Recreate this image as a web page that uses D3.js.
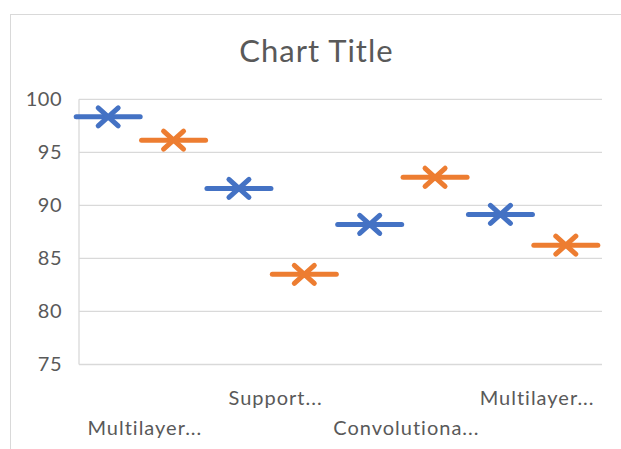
<!DOCTYPE html>
<html>
<head>
<meta charset="utf-8">
<script src="https://cdn.jsdelivr.net/npm/d3@7"></script>
<style>
  html, body { margin: 0; padding: 0; background: #fff; }
  #chart { width: 621px; height: 449px; overflow: hidden; }
  text { font-family: Lato, "Open Sans", sans-serif; fill: #595959; }
</style>
</head>
<body>
<div id="chart"></div>
<script>
// --- Data ---
const categories = ["Multilayer...", "Support...", "Convolutiona...", "Multilayer..."];
const seriesNames = ["Series1", "Series2"];
const series1 = [98.35, 91.6, 88.2, 89.15];
const series2 = [96.15, 83.5, 92.65, 86.25];
const yTicks = [75, 80, 85, 90, 95, 100];

(function(){
function drawChart() {
    const W = 621, H = 449;
    const plot = { left: 79, right: 602, top: 99.3, bottom: 364.5 };
    const colors = { Series1: "#4472C4", Series2: "#ED7D31" };

    const svg = d3.select("#chart").append("svg")
        .attr("width", W)
        .attr("height", H);

    // chart area border (runs off the right/bottom of the crop)
    svg.append("rect")
        .attr("x", 10.5).attr("y", 14.5)
        .attr("width", 700).attr("height", 600)
        .attr("fill", "#fff")
        .attr("stroke", "#d9d9d9")
        .attr("stroke-width", 1);

    // --- Scales ---
    const x0 = d3.scaleBand()
        .domain(d3.range(categories.length))
        .range([plot.left, plot.right]);

    const x1 = d3.scaleBand()
        .domain(seriesNames)
        .range([-3.5, x0.bandwidth() - 3.5]);

    const y = d3.scaleLinear()
        .domain([75, 100])
        .range([plot.bottom, plot.top]);

    // --- Gridlines ---
    svg.append("g")
        .selectAll("line")
        .data(yTicks)
        .join("line")
        .attr("x1", plot.left)
        .attr("x2", plot.right)
        .attr("y1", d => y(d))
        .attr("y2", d => y(d))
        .attr("stroke", "#d9d9d9")
        .attr("stroke-width", 1.3);

    svg.append("line")
        .attr("x1", plot.left).attr("x2", plot.left)
        .attr("y1", plot.top).attr("y2", plot.bottom)
        .attr("stroke", "#d9d9d9")
        .attr("stroke-width", 1.3);

    // --- Y axis labels ---
    svg.append("g")
        .attr("transform", `translate(${plot.left - 17},0)`)
        .call(d3.axisLeft(y).tickValues(yTicks).tickSize(0).tickPadding(0))
        .call(g => g.select(".domain").remove())
        .call(g => g.selectAll("text")
            .style("font-family", "Lato, sans-serif")
            .style("font-size", "20px")
            .style("letter-spacing", "0.5px")
            .attr("fill", "#595959"));

    // --- X axis labels (staggered) ---
    svg.append("g")
        .selectAll("text")
        .data(categories)
        .join("text")
        .attr("x", (d, i) => x0(i) + x0.bandwidth() / 2 + 0.5)
        .attr("y", (d, i) => i % 2 === 0 ? 435 : 405)
        .attr("text-anchor", "middle")
        .style("font-size", "20px")
        .style("letter-spacing", "1px")
        .text(d => d);

    // --- Title ---
    svg.append("text")
        .attr("x", 316.5)
        .attr("y", 62)
        .attr("text-anchor", "middle")
        .style("font-size", "31px")
        .style("letter-spacing", "1px")
        .text("Chart Title");

    // --- Markers: dash + x ---
    const points = [];
    categories.forEach((c, i) => {
        points.push({ i, s: "Series1", v: series1[i] });
        points.push({ i, s: "Series2", v: series2[i] });
    });

    const dashW = 64, xs = 10;
    const marks = svg.append("g")
        .selectAll("g")
        .data(points)
        .join("g")
        .attr("transform", d => `translate(${x0(d.i) + x1(d.s) + x1.bandwidth() / 2},${y(d.v)})`)
        .attr("stroke", d => colors[d.s])
        .attr("stroke-linecap", "round")
        .attr("fill", "none");

    marks.append("line")
        .attr("x1", -dashW / 2).attr("x2", dashW / 2)
        .attr("y1", 0).attr("y2", 0)
        .attr("stroke-width", 5);

    marks.append("path")
        .attr("d", `M${-xs},${-xs + 1}L${xs},${xs - 1}M${-xs},${xs - 1}L${xs},${-xs + 1}`)
        .attr("stroke-width", 5);
}

drawChart();
})();
</script>
</body>
</html>
